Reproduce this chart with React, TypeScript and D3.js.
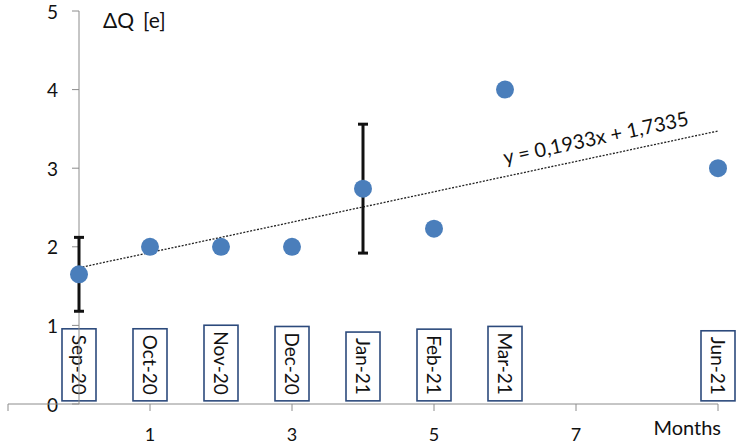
import { useEffect, useRef } from "react"
import * as d3 from "d3"

// months since Sep-20
const months = ["Sep-20", "Oct-20", "Nov-20", "Dec-20", "Jan-21", "Feb-21", "Mar-21", "Jun-21"]
const monthIndex = [0, 1, 2, 3, 4, 5, 6, 9]
const deltaQ = [1.65, 2, 2, 2, 2.74, 2.23, 4, 3]
const errors = [0.47, 0, 0, 0, 0.82, 0, 0, 0]
const xTicks = [1, 3, 5, 7]
const yTicks = [0, 1, 2, 3, 4, 5]
const trendSlope = 0.1933
const trendIntercept = 1.7335

const FONT = "Lato, 'Open Sans', sans-serif"

export default function App() {
    const ref = useRef<SVGSVGElement | null>(null)
    const width = 750
    const height = 447

    const x = d3.scaleLinear().domain([-1, 9]).range([8, 718])
    const y = d3.scaleLinear().domain([0, 5]).range([404, 11])

    const axisColor = "#8c8c8c"
    const pointColor = "#4a7ebb"
    const boxColor = "#2c4a7c"
    const textColor = "#111"

    // size the month boxes to their rotated text
    useEffect(() => {
        const svg = d3.select(ref.current)
        svg.selectAll<SVGGElement, unknown>("g.month").each(function () {
            const g = d3.select(this)
            const t = g.select<SVGTextElement>("text").node()
            if (!t) return
            const len = t.getComputedTextLength()
            const pad = 6
            g.select("rect")
                .attr("x", -17)
                .attr("width", 34)
                .attr("y", -len - pad * 2)
                .attr("height", len + pad * 2)
            g.select("text").attr("transform", `translate(0,${-len - pad}) rotate(90)`)
        })
    }, [])

    const trend = d3
        .line<number>()
        .x((d) => x(d))
        .y((d) => y(trendSlope * d + trendIntercept))

    const eqX = 7.3
    const angle = (Math.atan2(y(trendSlope * 9) - y(0), x(9) - x(0)) * 180) / Math.PI

    return (
        <svg
            ref={ref}
            width={width}
            height={height}
            viewBox={`0 0 ${width} ${height}`}
            style={{ position: "absolute", left: 0, top: 0, display: "block", background: "#fff" }}
            fontFamily={FONT}
        >
            {/* Month label boxes */}
            {months.map((m, i) => (
                <g key={m} className="month" transform={`translate(${x(monthIndex[i])},${y(0.04)})`}>
                    <rect x={-17} y={-76} width={34} height={76} fill="#fff" stroke={boxColor} strokeWidth={1.6} />
                    <text x={0} y={0} fontSize={19} dominantBaseline="central" fill={textColor}>
                        {m}
                    </text>
                </g>
            ))}

            {/* Y axis */}
            <line x1={x(0)} x2={x(0)} y1={y(5)} y2={y(0)} stroke={axisColor} />
            {yTicks.map((t) => (
                <g key={t} transform={`translate(${x(0)},${y(t)})`}>
                    <line x1={-7} x2={0} stroke={axisColor} />
                    <text x={-21} textAnchor="end" dominantBaseline="central" fontSize={19} fill={textColor}>
                        {t}
                    </text>
                </g>
            ))}
            <text x={103} y={19} fontSize={21} dominantBaseline="central" fill={textColor}>
                ΔQ
                <tspan dx={9}>[e]</tspan>
            </text>

            {/* X axis */}
            <line x1={x(-1)} x2={x(9)} y1={y(0)} y2={y(0)} stroke={axisColor} />
            {[-1, ...xTicks, 9].map((t) => (
                <line key={t} x1={x(t)} x2={x(t)} y1={y(0)} y2={y(0) + 7} stroke={axisColor} />
            ))}
            {xTicks.map((t) => (
                <text key={t} x={x(t)} y={434} textAnchor="middle" dominantBaseline="central" fontSize={18} fill={textColor}>
                    {t}
                </text>
            ))}
            <text x={721} y={427} textAnchor="end" dominantBaseline="central" fontSize={20} fill={textColor}>
                Months
            </text>

            {/* Trendline */}
            <path d={trend([0, 9]) ?? ""} fill="none" stroke="#222" strokeWidth={1.3} strokeDasharray="2,1.5" />
            <text
                transform={`translate(${x(eqX)},${y(trendSlope * eqX + trendIntercept) - 12}) rotate(${angle})`}
                textAnchor="middle"
                fontSize={20}
                fill={textColor}
            >
                y = 0,1933x + 1,7335
            </text>

            {/* Error bars */}
            {deltaQ.map((v, i) =>
                errors[i] > 0 ? (
                    <g key={i} stroke="#111" strokeWidth={3}>
                        <line x1={x(monthIndex[i])} x2={x(monthIndex[i])} y1={y(v - errors[i])} y2={y(v + errors[i])} />
                        <line x1={x(monthIndex[i]) - 5} x2={x(monthIndex[i]) + 5} y1={y(v - errors[i])} y2={y(v - errors[i])} />
                        <line x1={x(monthIndex[i]) - 5} x2={x(monthIndex[i]) + 5} y1={y(v + errors[i])} y2={y(v + errors[i])} />
                    </g>
                ) : null
            )}

            {/* Points */}
            {deltaQ.map((v, i) => (
                <circle key={i} cx={x(monthIndex[i])} cy={y(v)} r={9} fill={pointColor} />
            ))}
        </svg>
    )
}
